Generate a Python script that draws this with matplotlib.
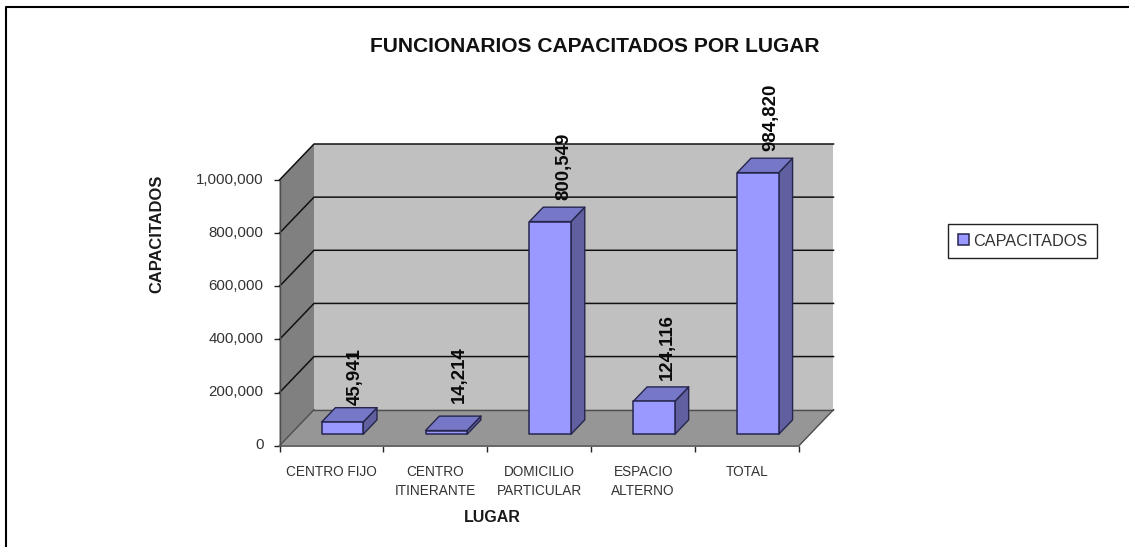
import matplotlib
matplotlib.use("Agg")
import matplotlib.pyplot as plt
from matplotlib.patches import Polygon, Patch
from matplotlib.lines import Line2D
from matplotlib.ticker import FuncFormatter
from matplotlib.transforms import ScaledTranslation

# Data
categories = ["CENTRO FIJO", "CENTRO\nITINERANTE", "DOMICILIO\nPARTICULAR", "ESPACIO\nALTERNO", "TOTAL"]
capacitados = [45941, 14214, 800549, 124116, 984820]
y_ticks = [0, 200000, 400000, 600000, 800000, 1000000]
title_text = "FUNCIONARIOS CAPACITADOS POR LUGAR"
x_title = "LUGAR"
y_title = "CAPACITADOS"
series_name = "CAPACITADOS"

W, H = 1129, 547
plt.rcParams["font.family"] = ["Liberation Sans"]

fig = plt.figure(figsize=(W / 100, H / 100), dpi=100, facecolor="white")
ax = fig.add_axes([279.5 / W, (H - 445.7) / H, 519.5 / W, 265.7 / H])
ax.set_xlim(0, len(categories))
ax.set_ylim(0, y_ticks[-1])
ax.patch.set_visible(False)
for s in ax.spines.values():
    s.set_visible(False)

# Oblique depth projection, in axis data units
DX = 34.5 / 103.9
DY = 36 / 265.7 * y_ticks[-1]
def P(x, y, d):
    return (x + d * DX, y + d * DY)

n = len(categories)
top = y_ticks[-1]
EDGE = "#4d4d4d"

def face(pts, color, edge=EDGE, lw=0.9, z=1):
    ax.add_patch(Polygon(pts, closed=True, facecolor=color, edgecolor=edge,
                         linewidth=lw, clip_on=False, zorder=z, joinstyle="round"))

face([P(0, 0, 1), P(n, 0, 1), P(n, top, 1), P(0, top, 1)], "#c0c0c0", edge="none", lw=0, z=1)
face([P(0, 0, 0), P(0, 0, 1), P(0, top, 1), P(0, top, 0)], "#808080", edge="none", lw=0, z=1)
face([P(0, 0, 0), P(n, 0, 0), P(n, 0, 1), P(0, 0, 1)], "#969696", edge="none", lw=0, z=1)

for v in y_ticks[1:]:
    xs, ys = zip(P(0, v, 0), P(0, v, 1), P(n, v, 1))
    ax.plot(xs, ys, color="#111111", lw=1.1, clip_on=False, zorder=2)
for a, b, c, lw in [(P(0, 0, 0), P(0, 0, 1), EDGE, 1.0), (P(0, 0, 1), P(n, 0, 1), EDGE, 1.0),
                    (P(n, 0, 0), P(n, 0, 1), EDGE, 1.0), (P(0, 0, 0), P(n, 0, 0), "#666666", 1.4),
                    (P(0, 0, 0), P(0, top, 0), EDGE, 1.0)]:
    ax.plot([a[0], b[0]], [a[1], b[1]], color=c, lw=lw, clip_on=False, zorder=2)

# Bars
F, T, S = "#9999ff", "#7777c8", "#6060a0"
BE = "#26264d"
x0, x1, d0, d1 = 0.30, 0.70, 0.317, 0.717
label_gap_px = [3, 13, 7, 7, 7]
for i, (v, gap) in enumerate(zip(capacitados, label_gap_px)):
    l, r = i + x0, i + x1
    face([P(r, 0, d0), P(r, 0, d1), P(r, v, d1), P(r, v, d0)], S, edge=BE, lw=1.0, z=3)
    face([P(l, v, d0), P(r, v, d0), P(r, v, d1), P(l, v, d1)], T, edge=BE, lw=1.0, z=3)
    face([P(l, 0, d0), P(r, 0, d0), P(r, v, d0), P(l, v, d0)], F, edge=BE, lw=1.1, z=4)
    lx, _ = P(i + 0.5, v, 0.70)
    _, ly = P(i + 0.5, v, d1)
    ax.annotate(f"{v:,}", (lx, ly), xytext=(0, gap * 0.72), textcoords="offset points",
                rotation=90, ha="center", va="bottom", fontsize=13.4, fontweight="bold",
                color="#0a0a0a", annotation_clip=False, zorder=6)

# Axes ticks
ax.set_yticks(y_ticks)
ax.yaxis.set_major_formatter(FuncFormatter(lambda v, _: f"{int(v):,}"))
ax.tick_params(axis="y", length=4, width=1, color="#222222", pad=7.5, labelsize=10.8, labelcolor="#333333")
up = ScaledTranslation(0, 2 / 100, fig.dpi_scale_trans)
for lab in ax.get_yticklabels():
    lab.set_transform(lab.get_transform() + up)
ax.set_xticks(range(n + 1))
ax.set_xticklabels([])
ax.set_xticks([i + 0.5 for i in range(n)], minor=True)
ax.set_xticklabels(categories, minor=True, linespacing=1.45)
ax.tick_params(axis="x", which="major", length=4, width=1, color="#222222")
ax.tick_params(axis="x", which="minor", length=0, pad=14, labelsize=9.8, labelcolor="#333333")

# Titles
def fx(px): return px / W
def fy(py): return (H - py) / H
fig.text(fx(595), fy(46), title_text, ha="center", va="center", fontsize=15.1, fontweight="bold", color="#111111")
fig.text(fx(492), fy(518), x_title, ha="center", va="center", fontsize=11.5, fontweight="bold", color="#1a1a1a")
fig.text(fx(157), fy(234), y_title, rotation=90, ha="center", va="center", fontsize=11.9, fontweight="bold", color="#1a1a1a")

# Legend
leg = fig.legend(handles=[Patch(facecolor=F, edgecolor=BE, linewidth=1.1, label=series_name)],
                 loc="center", bbox_to_anchor=(fx(1022.5), fy(241)), fontsize=11.7,
                 fancybox=False, framealpha=1, edgecolor="#222222", borderpad=0.58,
                 handlelength=0.68, handleheight=0.68, handletextpad=0.25, labelcolor="#333333")
leg.get_frame().set_linewidth(1.0)

# Page border
fig.add_artist(Line2D([fx(6), fx(6), fx(W)], [fy(H), fy(7), fy(7)], color="black", lw=1.5,
                      transform=fig.transFigure))

fig.savefig("out.png", dpi=100, facecolor="white")
